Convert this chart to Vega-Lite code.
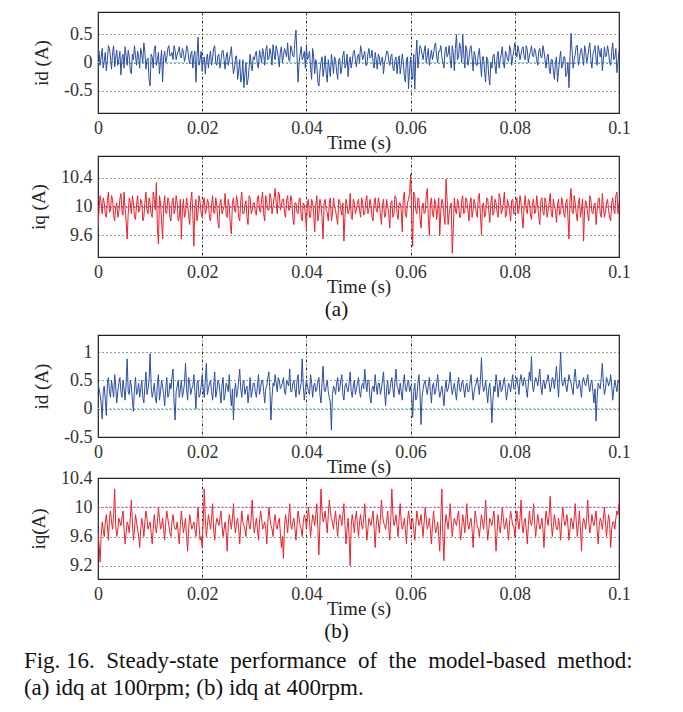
{
"$schema": "https://vega.github.io/schema/vega-lite/v6.json",
"padding": {"left": 23, "top": 11, "right": 5, "bottom": 5},
"background": "white",
"config": {
  "font": "Liberation Serif",
  "view": {"stroke": "#222", "strokeWidth": 1.2},
  "axis": {"labelFont": "Liberation Serif", "labelFontSize": 18, "labelColor": "#333", "titleFont": "Liberation Serif", "titleFontSize": 19, "titleFontWeight": "normal", "titleColor": "#222", "ticks": false, "domain": false, "grid": true, "labelOverlap": false},
  "axisX": {"gridDash": [3, 2, 1, 2], "gridColor": "#333", "labelPadding": 6, "titlePadding": -4, "labelFlush": false},
  "axisY": {"gridDash": [1, 3], "gridColor": "#333", "labelPadding": 6, "titlePadding": 12}
},
"data": {"values": [
{"t":0,"a":0.12,"b":9.72,"c":0.45,"d":9.65},
{"t":0.0004,"a":-0.05,"b":10.15,"c":0.25,"d":9.25},
{"t":0.0008,"a":0.25,"b":9.9,"c":-0.18,"d":9.8},
{"t":0.0012,"a":0.02,"b":10.05,"c":0.4,"d":9.6},
{"t":0.0016,"a":-0.15,"b":9.85,"c":-0.12,"d":9.9},
{"t":0.002,"a":0.3,"b":10.2,"c":0.55,"d":9.55},
{"t":0.0024,"a":0.08,"b":9.95,"c":0.2,"d":9.95},
{"t":0.0028,"a":0.18,"b":10.1,"c":0.35,"d":9.7},
{"t":0.0032,"a":-0.08,"b":9.8,"c":0.6,"d":10.25},
{"t":0.0036,"a":0.22,"b":10.05,"c":0.1,"d":9.6},
{"t":0.004,"a":0.05,"b":9.92,"c":0.45,"d":9.85},
{"t":0.0044,"a":-0.22,"b":10.18,"c":0.3,"d":9.75},
{"t":0.0048,"a":0.15,"b":9.88,"c":0.5,"d":9.95},
{"t":0.0052,"a":0.28,"b":9.98,"c":0.15,"d":9.5},
{"t":0.0056,"a":-0.05,"b":9.55,"c":0.88,"d":9.8},
{"t":0.006,"a":0.1,"b":10.12,"c":0.25,"d":9.65},
{"t":0.0064,"a":-0.2,"b":9.9,"c":0.4,"d":10.1},
{"t":0.0068,"a":0.05,"b":10.05,"c":-0.05,"d":9.55},
{"t":0.0072,"a":0.12,"b":9.82,"c":0.55,"d":9.9},
{"t":0.0076,"a":0.2,"b":10.15,"c":0.3,"d":9.7},
{"t":0.008,"a":-0.1,"b":9.95,"c":0.2,"d":9.45},
{"t":0.0084,"a":0.15,"b":10.08,"c":0.5,"d":9.85},
{"t":0.0088,"a":0.35,"b":9.85,"c":0.1,"d":9.6},
{"t":0.0092,"a":-0.12,"b":10.2,"c":0.65,"d":9.95},
{"t":0.0096,"a":0.08,"b":9.9,"c":0.35,"d":9.7},
{"t":0.01,"a":-0.42,"b":10.05,"c":0.97,"d":9.8},
{"t":0.0104,"a":0.1,"b":9.85,"c":0.2,"d":9.5},
{"t":0.0108,"a":0.25,"b":10.1,"c":0.45,"d":9.9},
{"t":0.0112,"a":-0.05,"b":10.33,"c":0.1,"d":9.65},
{"t":0.0116,"a":0.18,"b":9.48,"c":0.6,"d":10.0},
{"t":0.012,"a":0.02,"b":10.05,"c":0.3,"d":9.7},
{"t":0.0124,"a":-0.35,"b":9.55,"c":0.4,"d":9.85},
{"t":0.0128,"a":0.2,"b":10.15,"c":0.05,"d":9.55},
{"t":0.0132,"a":0.08,"b":9.9,"c":0.55,"d":9.95},
{"t":0.0136,"a":0.3,"b":10.08,"c":0.25,"d":9.75},
{"t":0.014,"a":0.12,"b":9.8,"c":0.35,"d":9.6},
{"t":0.0144,"a":0.05,"b":10.12,"c":0.7,"d":9.9},
{"t":0.0148,"a":0.22,"b":9.95,"c":-0.2,"d":9.7},
{"t":0.0152,"a":0.15,"b":10.05,"c":0.4,"d":9.8},
{"t":0.0156,"a":0.28,"b":9.85,"c":0.2,"d":9.5},
{"t":0.016,"a":0.08,"b":9.55,"c":0.5,"d":9.95},
{"t":0.0164,"a":0.18,"b":10.1,"c":0.3,"d":9.65},
{"t":0.0168,"a":0.1,"b":9.9,"c":0.8,"d":9.85},
{"t":0.0172,"a":0.25,"b":10.02,"c":0.15,"d":9.4},
{"t":0.0176,"a":-0.02,"b":9.75,"c":0.45,"d":9.9},
{"t":0.018,"a":0.2,"b":10.2,"c":0.35,"d":9.7},
{"t":0.0184,"a":0.12,"b":9.45,"c":0.6,"d":9.8},
{"t":0.0188,"a":-0.35,"b":10.1,"c":0.0,"d":9.6},
{"t":0.0192,"a":0.45,"b":9.92,"c":0.5,"d":10.0},
{"t":0.0196,"a":0.05,"b":10.05,"c":0.25,"d":9.55},
{"t":0.02,"a":-0.15,"b":9.85,"c":0.6,"d":9.45},
{"t":0.0204,"a":0.1,"b":10.12,"c":0.2,"d":10.25},
{"t":0.0208,"a":0.05,"b":9.95,"c":0.8,"d":9.6},
{"t":0.0212,"a":-0.1,"b":10.05,"c":0.35,"d":9.9},
{"t":0.0216,"a":0.2,"b":9.8,"c":0.5,"d":9.7},
{"t":0.022,"a":0.08,"b":10.15,"c":0.15,"d":10.05},
{"t":0.0224,"a":0.3,"b":9.9,"c":0.65,"d":9.55},
{"t":0.0228,"a":-0.05,"b":10.02,"c":0.3,"d":9.85},
{"t":0.0232,"a":0.15,"b":9.7,"c":0.45,"d":9.75},
{"t":0.0236,"a":0.02,"b":10.1,"c":0.1,"d":9.95},
{"t":0.024,"a":0.22,"b":9.95,"c":0.55,"d":9.6},
{"t":0.0244,"a":-0.12,"b":10.18,"c":0.25,"d":9.8},
{"t":0.0248,"a":0.18,"b":9.85,"c":0.4,"d":9.4},
{"t":0.0252,"a":0.05,"b":10.0,"c":0.6,"d":9.9},
{"t":0.0256,"a":0.28,"b":9.62,"c":0.05,"d":9.7},
{"t":0.026,"a":-0.2,"b":10.12,"c":-0.2,"d":10.05},
{"t":0.0264,"a":0.1,"b":9.92,"c":0.45,"d":9.65},
{"t":0.0268,"a":-0.3,"b":10.05,"c":0.3,"d":9.85},
{"t":0.0272,"a":0.05,"b":9.8,"c":0.7,"d":9.5},
{"t":0.0276,"a":-0.25,"b":10.2,"c":0.2,"d":9.95},
{"t":0.028,"a":-0.45,"b":9.9,"c":0.5,"d":9.75},
{"t":0.0284,"a":0.0,"b":10.08,"c":0.35,"d":9.6},
{"t":0.0288,"a":-0.3,"b":9.75,"c":0.1,"d":9.9},
{"t":0.0292,"a":0.15,"b":10.12,"c":0.55,"d":9.7},
{"t":0.0296,"a":-0.15,"b":9.95,"c":0.3,"d":10.1},
{"t":0.03,"a":0.05,"b":10.05,"c":0.45,"d":9.65},
{"t":0.0304,"a":0.2,"b":9.88,"c":0.2,"d":9.85},
{"t":0.0308,"a":-0.1,"b":10.15,"c":0.6,"d":9.55},
{"t":0.0312,"a":0.12,"b":9.92,"c":0.35,"d":9.95},
{"t":0.0316,"a":0.25,"b":10.2,"c":0.5,"d":9.7},
{"t":0.032,"a":-0.05,"b":9.8,"c":0.1,"d":9.8},
{"t":0.0324,"a":0.3,"b":10.05,"c":0.4,"d":9.5},
{"t":0.0328,"a":0.08,"b":9.95,"c":0.65,"d":10.0},
{"t":0.0332,"a":0.15,"b":10.12,"c":-0.2,"d":9.75},
{"t":0.0336,"a":0.32,"b":10.0,"c":0.45,"d":9.6},
{"t":0.034,"a":0.05,"b":10.25,"c":0.6,"d":9.9},
{"t":0.0344,"a":0.2,"b":9.9,"c":0.3,"d":9.7},
{"t":0.0348,"a":-0.08,"b":10.18,"c":0.5,"d":9.85},
{"t":0.0352,"a":0.28,"b":10.02,"c":0.4,"d":9.45},
{"t":0.0356,"a":0.12,"b":10.1,"c":0.55,"d":9.3},
{"t":0.036,"a":0.18,"b":9.85,"c":0.25,"d":9.9},
{"t":0.0364,"a":0.35,"b":10.15,"c":0.45,"d":9.65},
{"t":0.0368,"a":0.02,"b":9.95,"c":0.7,"d":10.05},
{"t":0.0372,"a":0.22,"b":10.08,"c":0.3,"d":9.7},
{"t":0.0376,"a":0.1,"b":9.75,"c":0.5,"d":9.85},
{"t":0.038,"a":0.58,"b":10.05,"c":0.2,"d":9.55},
{"t":0.0384,"a":-0.35,"b":9.9,"c":0.6,"d":9.95},
{"t":0.0388,"a":0.15,"b":10.12,"c":0.35,"d":9.75},
{"t":0.0392,"a":0.05,"b":9.8,"c":0.88,"d":9.6},
{"t":0.0396,"a":0.2,"b":10.02,"c":0.15,"d":9.9},
{"t":0.04,"a":0.3,"b":9.7,"c":0.5,"d":9.7},
{"t":0.0404,"a":0.1,"b":10.1,"c":0.3,"d":10.0},
{"t":0.0408,"a":-0.1,"b":9.85,"c":0.6,"d":9.6},
{"t":0.0412,"a":0.25,"b":10.05,"c":0.2,"d":9.9},
{"t":0.0416,"a":-0.2,"b":9.65,"c":0.45,"d":9.75},
{"t":0.042,"a":-0.05,"b":10.15,"c":0.35,"d":10.05},
{"t":0.0424,"a":-0.42,"b":9.9,"c":0.55,"d":9.35},
{"t":0.0428,"a":0.0,"b":10.02,"c":0.1,"d":10.25},
{"t":0.0432,"a":-0.25,"b":9.55,"c":0.75,"d":9.8},
{"t":0.0436,"a":0.12,"b":10.1,"c":0.3,"d":9.95},
{"t":0.044,"a":-0.35,"b":9.92,"c":0.5,"d":9.65},
{"t":0.0444,"a":-0.1,"b":10.05,"c":0.2,"d":10.1},
{"t":0.0448,"a":0.15,"b":9.8,"c":-0.38,"d":9.85},
{"t":0.0452,"a":-0.2,"b":10.12,"c":0.4,"d":9.7},
{"t":0.0456,"a":0.05,"b":9.95,"c":0.25,"d":9.95},
{"t":0.046,"a":-0.3,"b":9.75,"c":0.55,"d":9.6},
{"t":0.0464,"a":0.08,"b":10.08,"c":0.35,"d":9.9},
{"t":0.0468,"a":-0.1,"b":9.88,"c":0.6,"d":9.75},
{"t":0.0472,"a":0.2,"b":9.52,"c":0.15,"d":10.05},
{"t":0.0476,"a":-0.05,"b":10.1,"c":0.45,"d":9.5},
{"t":0.048,"a":-0.25,"b":9.9,"c":0.3,"d":9.85},
{"t":0.0484,"a":0.1,"b":10.18,"c":0.65,"d":9.2},
{"t":0.0488,"a":0.02,"b":9.82,"c":0.2,"d":9.9},
{"t":0.0492,"a":0.22,"b":10.05,"c":0.5,"d":9.65},
{"t":0.0496,"a":-0.08,"b":9.95,"c":0.35,"d":9.95},
{"t":0.05,"a":0.15,"b":10.1,"c":0.55,"d":9.6},
{"t":0.0504,"a":0.3,"b":9.85,"c":0.2,"d":9.9},
{"t":0.0508,"a":0.05,"b":10.05,"c":0.45,"d":9.7},
{"t":0.0512,"a":0.2,"b":9.9,"c":0.7,"d":10.05},
{"t":0.0516,"a":-0.05,"b":10.15,"c":0.3,"d":9.55},
{"t":0.052,"a":0.25,"b":9.95,"c":0.5,"d":9.85},
{"t":0.0524,"a":0.1,"b":10.02,"c":0.1,"d":9.75},
{"t":0.0528,"a":0.0,"b":9.8,"c":0.4,"d":9.95},
{"t":0.0532,"a":0.18,"b":10.12,"c":0.6,"d":9.45},
{"t":0.0536,"a":-0.12,"b":9.92,"c":0.25,"d":9.9},
{"t":0.054,"a":0.1,"b":10.05,"c":0.45,"d":9.65},
{"t":0.0544,"a":0.05,"b":9.75,"c":0.35,"d":10.1},
{"t":0.0548,"a":-0.2,"b":10.1,"c":0.65,"d":9.8},
{"t":0.0552,"a":0.08,"b":9.88,"c":0.05,"d":9.7},
{"t":0.0556,"a":0.2,"b":10.0,"c":0.5,"d":9.95},
{"t":0.056,"a":-0.05,"b":9.7,"c":0.3,"d":9.55},
{"t":0.0564,"a":0.15,"b":10.08,"c":0.55,"d":10.25},
{"t":0.0568,"a":-0.15,"b":9.9,"c":0.2,"d":9.75},
{"t":0.0572,"a":0.1,"b":10.12,"c":0.7,"d":9.9},
{"t":0.0576,"a":0.02,"b":9.82,"c":0.35,"d":9.6},
{"t":0.058,"a":-0.2,"b":10.05,"c":0.45,"d":10.05},
{"t":0.0584,"a":0.15,"b":9.65,"c":0.15,"d":9.7},
{"t":0.0588,"a":-0.25,"b":10.2,"c":0.6,"d":9.85},
{"t":0.0592,"a":0.05,"b":9.85,"c":0.3,"d":9.5},
{"t":0.0596,"a":-0.47,"b":10.1,"c":0.5,"d":9.95},
{"t":0.06,"a":0.1,"b":10.45,"c":0.4,"d":9.7},
{"t":0.0604,"a":-0.3,"b":9.45,"c":-0.15,"d":9.85},
{"t":0.0608,"a":-0.48,"b":10.15,"c":0.45,"d":9.55},
{"t":0.0612,"a":0.4,"b":9.9,"c":0.2,"d":9.95},
{"t":0.0616,"a":0.1,"b":10.1,"c":0.6,"d":9.75},
{"t":0.062,"a":0.25,"b":9.7,"c":-0.28,"d":9.9},
{"t":0.0624,"a":0.05,"b":10.05,"c":0.35,"d":9.6},
{"t":0.0628,"a":0.3,"b":9.92,"c":0.5,"d":10.0},
{"t":0.0632,"a":0.12,"b":10.25,"c":0.25,"d":9.7},
{"t":0.0636,"a":-0.05,"b":9.6,"c":0.55,"d":9.85},
{"t":0.064,"a":0.22,"b":10.12,"c":0.1,"d":9.5},
{"t":0.0644,"a":0.15,"b":9.85,"c":0.45,"d":9.95},
{"t":0.0648,"a":0.35,"b":10.05,"c":0.3,"d":9.65},
{"t":0.0652,"a":0.0,"b":9.95,"c":0.6,"d":9.8},
{"t":0.0656,"a":0.2,"b":9.6,"c":0.2,"d":9.4},
{"t":0.066,"a":0.1,"b":10.1,"c":0.4,"d":10.25},
{"t":0.0664,"a":-0.1,"b":9.88,"c":0.05,"d":9.27},
{"t":0.0668,"a":0.28,"b":10.38,"c":0.5,"d":9.9},
{"t":0.0672,"a":0.15,"b":9.75,"c":0.35,"d":9.7},
{"t":0.0676,"a":0.05,"b":10.0,"c":0.65,"d":10.05},
{"t":0.068,"a":0.3,"b":9.35,"c":0.25,"d":9.6},
{"t":0.0684,"a":-0.15,"b":10.12,"c":0.45,"d":9.85},
{"t":0.0688,"a":0.5,"b":9.9,"c":0.15,"d":9.75},
{"t":0.0692,"a":0.1,"b":10.05,"c":0.55,"d":9.95},
{"t":0.0696,"a":0.25,"b":9.85,"c":0.3,"d":9.55},
{"t":0.07,"a":0.5,"b":10.15,"c":0.5,"d":9.9},
{"t":0.0704,"a":-0.1,"b":9.92,"c":0.2,"d":9.65},
{"t":0.0708,"a":0.2,"b":10.08,"c":0.45,"d":10.05},
{"t":0.0712,"a":0.05,"b":9.8,"c":0.3,"d":9.7},
{"t":0.0716,"a":0.3,"b":10.12,"c":0.6,"d":9.85},
{"t":0.072,"a":-0.15,"b":9.95,"c":0.15,"d":9.45},
{"t":0.0724,"a":0.12,"b":10.02,"c":0.4,"d":9.95},
{"t":0.0728,"a":-0.05,"b":9.85,"c":0.55,"d":9.75},
{"t":0.0732,"a":0.25,"b":10.18,"c":0.25,"d":9.6},
{"t":0.0736,"a":-0.25,"b":9.6,"c":0.9,"d":9.9},
{"t":0.074,"a":0.1,"b":10.05,"c":0.3,"d":9.7},
{"t":0.0744,"a":-0.35,"b":9.9,"c":0.5,"d":10.1},
{"t":0.0748,"a":0.05,"b":10.1,"c":0.1,"d":9.55},
{"t":0.0752,"a":-0.4,"b":9.78,"c":0.45,"d":9.85},
{"t":0.0756,"a":-0.1,"b":10.15,"c":-0.25,"d":9.75},
{"t":0.076,"a":0.15,"b":9.92,"c":0.4,"d":9.95},
{"t":0.0764,"a":-0.2,"b":10.05,"c":0.6,"d":9.4},
{"t":0.0768,"a":0.2,"b":9.85,"c":0.2,"d":9.9},
{"t":0.0772,"a":0.05,"b":10.12,"c":0.5,"d":9.65},
{"t":0.0776,"a":0.28,"b":9.95,"c":0.35,"d":10.0},
{"t":0.078,"a":-0.1,"b":10.2,"c":0.55,"d":9.7},
{"t":0.0784,"a":0.15,"b":9.88,"c":0.15,"d":9.85},
{"t":0.0788,"a":0.02,"b":10.02,"c":0.45,"d":9.55},
{"t":0.0792,"a":0.22,"b":9.8,"c":0.3,"d":9.95},
{"t":0.0796,"a":0.1,"b":10.1,"c":0.6,"d":9.75},
{"t":0.08,"a":0.35,"b":9.9,"c":0.35,"d":9.6},
{"t":0.0804,"a":0.1,"b":10.12,"c":0.55,"d":9.95},
{"t":0.0808,"a":0.2,"b":9.95,"c":0.25,"d":9.7},
{"t":0.0812,"a":0.15,"b":10.05,"c":0.6,"d":10.1},
{"t":0.0816,"a":0.28,"b":9.7,"c":0.4,"d":9.65},
{"t":0.082,"a":0.05,"b":10.15,"c":0.5,"d":9.85},
{"t":0.0824,"a":0.22,"b":9.9,"c":0.2,"d":9.5},
{"t":0.0828,"a":0.12,"b":10.08,"c":0.65,"d":9.95},
{"t":0.0832,"a":0.3,"b":9.82,"c":0.92,"d":9.75},
{"t":0.0836,"a":0.1,"b":10.1,"c":0.3,"d":10.05},
{"t":0.084,"a":0.18,"b":9.92,"c":0.55,"d":9.6},
{"t":0.0844,"a":-0.05,"b":10.02,"c":0.4,"d":9.9},
{"t":0.0848,"a":0.25,"b":9.75,"c":0.7,"d":9.7},
{"t":0.0852,"a":0.08,"b":10.12,"c":0.25,"d":9.85},
{"t":0.0856,"a":0.2,"b":9.88,"c":0.5,"d":9.45},
{"t":0.086,"a":-0.1,"b":10.05,"c":0.45,"d":9.95},
{"t":0.0864,"a":0.15,"b":9.95,"c":0.6,"d":9.75},
{"t":0.0868,"a":-0.2,"b":10.18,"c":0.3,"d":10.15},
{"t":0.0872,"a":0.05,"b":9.85,"c":0.55,"d":9.6},
{"t":0.0876,"a":-0.3,"b":10.0,"c":0.35,"d":9.9},
{"t":0.088,"a":0.1,"b":9.78,"c":0.75,"d":9.7},
{"t":0.0884,"a":-0.15,"b":10.1,"c":0.2,"d":9.85},
{"t":0.0888,"a":0.2,"b":9.92,"c":1.0,"d":9.55},
{"t":0.0892,"a":-0.05,"b":10.05,"c":0.4,"d":10.0},
{"t":0.0896,"a":0.1,"b":9.85,"c":0.55,"d":9.75},
{"t":0.09,"a":-0.2,"b":10.1,"c":0.3,"d":9.9},
{"t":0.0904,"a":-0.45,"b":9.55,"c":0.6,"d":9.55},
{"t":0.0908,"a":0.52,"b":10.25,"c":0.45,"d":9.85},
{"t":0.0912,"a":-0.1,"b":9.9,"c":0.25,"d":9.7},
{"t":0.0916,"a":0.15,"b":10.05,"c":0.7,"d":10.05},
{"t":0.092,"a":0.3,"b":9.8,"c":0.35,"d":9.6},
{"t":0.0924,"a":0.05,"b":10.12,"c":0.5,"d":9.95},
{"t":0.0928,"a":0.25,"b":9.95,"c":0.2,"d":9.4},
{"t":0.0932,"a":-0.05,"b":9.52,"c":0.55,"d":9.85},
{"t":0.0936,"a":0.2,"b":10.08,"c":0.4,"d":9.7},
{"t":0.094,"a":0.1,"b":9.88,"c":0.6,"d":10.1},
{"t":0.0944,"a":0.35,"b":10.15,"c":0.3,"d":9.65},
{"t":0.0948,"a":-0.1,"b":9.92,"c":0.5,"d":9.9},
{"t":0.0952,"a":0.22,"b":10.02,"c":0.1,"d":9.75},
{"t":0.0956,"a":0.05,"b":9.75,"c":-0.22,"d":9.95},
{"t":0.096,"a":0.3,"b":10.1,"c":0.45,"d":9.5},
{"t":0.0964,"a":0.1,"b":9.9,"c":0.35,"d":9.85},
{"t":0.0968,"a":-0.15,"b":10.18,"c":0.8,"d":9.7},
{"t":0.0972,"a":0.28,"b":9.85,"c":0.25,"d":10.0},
{"t":0.0976,"a":0.12,"b":10.05,"c":0.55,"d":9.6},
{"t":0.098,"a":0.18,"b":9.95,"c":0.4,"d":9.9},
{"t":0.0984,"a":-0.05,"b":9.8,"c":0.6,"d":9.45},
{"t":0.0988,"a":0.35,"b":10.12,"c":0.15,"d":9.8},
{"t":0.0992,"a":0.1,"b":9.9,"c":0.5,"d":9.7},
{"t":0.0996,"a":-0.18,"b":10.2,"c":0.3,"d":9.95},
{"t":0.1,"a":0.2,"b":10.05,"c":0.45,"d":10.05},
{"t":0.0002,"a":0.2,"b":9.95,"c":0.35,"d":9.5},
{"t":0.0006,"a":0.1,"b":10.05,"c":0.1,"d":9.6},
{"t":0.001,"a":-0.1,"b":10.12,"c":0.3,"d":9.7},
{"t":0.0014,"a":0.18,"b":9.9,"c":0.15,"d":9.8},
{"t":0.0018,"a":0.05,"b":10.08,"c":0.45,"d":9.75},
{"t":0.0022,"a":0.25,"b":9.92,"c":0.3,"d":9.85},
{"t":0.0026,"a":-0.12,"b":10.15,"c":0.5,"d":9.8},
{"t":0.003,"a":0.3,"b":9.88,"c":0.2,"d":9.9},
{"t":0.0034,"a":0.1,"b":10.0,"c":0.4,"d":9.75},
{"t":0.0038,"a":-0.05,"b":9.85,"c":0.3,"d":9.7},
{"t":0.0042,"a":0.2,"b":10.1,"c":0.55,"d":9.8},
{"t":0.0046,"a":0.08,"b":9.95,"c":0.2,"d":9.85},
{"t":0.005,"a":-0.1,"b":10.2,"c":0.35,"d":9.7},
{"t":0.0054,"a":0.12,"b":9.8,"c":0.45,"d":9.65},
{"t":0.0058,"a":0.22,"b":9.9,"c":0.3,"d":9.75},
{"t":0.0062,"a":-0.15,"b":10.05,"c":0.5,"d":9.85},
{"t":0.0066,"a":0.15,"b":10.15,"c":0.15,"d":9.8},
{"t":0.007,"a":0.3,"b":9.85,"c":0.35,"d":9.7},
{"t":0.0074,"a":-0.05,"b":10.02,"c":0.25,"d":9.8},
{"t":0.0078,"a":0.1,"b":9.92,"c":0.45,"d":9.6},
{"t":0.0082,"a":0.25,"b":10.1,"c":0.35,"d":9.7},
{"t":0.0086,"a":0.0,"b":9.8,"c":0.2,"d":9.75},
{"t":0.009,"a":0.18,"b":10.05,"c":0.4,"d":9.8},
{"t":0.0094,"a":0.05,"b":9.95,"c":0.25,"d":9.85},
{"t":0.0098,"a":-0.3,"b":10.12,"c":0.5,"d":9.75},
{"t":0.0102,"a":0.15,"b":9.9,"c":0.4,"d":9.65},
{"t":0.0106,"a":-0.1,"b":10.2,"c":0.3,"d":9.7},
{"t":0.011,"a":0.3,"b":9.95,"c":0.2,"d":9.75},
{"t":0.0114,"a":0.05,"b":9.7,"c":0.45,"d":9.8},
{"t":0.0118,"a":-0.2,"b":10.15,"c":0.15,"d":9.85},
{"t":0.0122,"a":0.22,"b":9.8,"c":0.5,"d":9.75},
{"t":0.0126,"a":0.1,"b":10.0,"c":0.25,"d":9.7},
{"t":0.013,"a":0.0,"b":9.92,"c":0.35,"d":9.8},
{"t":0.0134,"a":0.25,"b":10.12,"c":0.2,"d":9.85},
{"t":0.0138,"a":0.12,"b":9.85,"c":0.45,"d":9.65},
{"t":0.0142,"a":0.18,"b":10.05,"c":0.55,"d":9.8},
{"t":0.0146,"a":0.3,"b":9.9,"c":0.1,"d":9.75},
{"t":0.015,"a":0.05,"b":10.15,"c":0.3,"d":9.7},
{"t":0.0154,"a":0.2,"b":9.8,"c":0.5,"d":9.65},
{"t":0.0158,"a":0.1,"b":10.1,"c":0.35,"d":9.75},
{"t":0.0162,"a":0.25,"b":9.95,"c":0.2,"d":9.8},
{"t":0.0166,"a":0.02,"b":9.85,"c":0.45,"d":9.75},
{"t":0.017,"a":0.3,"b":10.12,"c":0.35,"d":9.6},
{"t":0.0174,"a":0.08,"b":9.88,"c":0.55,"d":9.7},
{"t":0.0178,"a":0.15,"b":10.08,"c":0.25,"d":9.8},
{"t":0.0182,"a":-0.1,"b":9.9,"c":0.4,"d":9.75},
{"t":0.0186,"a":0.2,"b":10.0,"c":0.3,"d":9.7},
{"t":0.019,"a":0.1,"b":9.8,"c":0.45,"d":9.8},
{"t":0.0194,"a":-0.05,"b":10.15,"c":0.2,"d":9.75},
{"t":0.0198,"a":0.2,"b":9.9,"c":0.4,"d":9.6},
{"t":0.0202,"a":0.05,"b":10.05,"c":0.35,"d":9.8},
{"t":0.0206,"a":-0.2,"b":9.9,"c":0.5,"d":9.85},
{"t":0.021,"a":0.15,"b":10.1,"c":0.25,"d":9.75},
{"t":0.0214,"a":0.1,"b":9.85,"c":0.45,"d":9.8},
{"t":0.0218,"a":-0.05,"b":10.02,"c":0.3,"d":9.85},
{"t":0.0222,"a":0.25,"b":9.92,"c":0.4,"d":9.7},
{"t":0.0226,"a":0.0,"b":10.12,"c":0.2,"d":9.75},
{"t":0.023,"a":0.12,"b":9.8,"c":0.5,"d":9.8},
{"t":0.0234,"a":-0.1,"b":10.05,"c":0.3,"d":9.85},
{"t":0.0238,"a":0.2,"b":9.9,"c":0.4,"d":9.75},
{"t":0.0242,"a":0.05,"b":10.0,"c":0.15,"d":9.7},
{"t":0.0246,"a":0.1,"b":9.88,"c":0.45,"d":9.65},
{"t":0.025,"a":-0.05,"b":10.1,"c":0.3,"d":9.75},
{"t":0.0254,"a":0.15,"b":9.75,"c":0.25,"d":9.8},
{"t":0.0258,"a":0.0,"b":10.05,"c":0.35,"d":9.85},
{"t":0.0262,"a":-0.1,"b":9.95,"c":0.3,"d":9.75},
{"t":0.0266,"a":0.12,"b":10.15,"c":0.2,"d":9.8},
{"t":0.027,"a":-0.15,"b":9.85,"c":0.5,"d":9.7},
{"t":0.0274,"a":-0.35,"b":10.08,"c":0.35,"d":9.75},
{"t":0.0278,"a":0.05,"b":9.9,"c":0.45,"d":9.8},
{"t":0.0282,"a":-0.2,"b":10.02,"c":0.25,"d":9.7},
{"t":0.0286,"a":-0.4,"b":9.85,"c":0.4,"d":9.8},
{"t":0.029,"a":-0.1,"b":10.15,"c":0.3,"d":9.75},
{"t":0.0294,"a":-0.05,"b":9.9,"c":0.2,"d":9.85},
{"t":0.0298,"a":0.1,"b":10.05,"c":0.45,"d":9.8},
{"t":0.0302,"a":0.15,"b":9.92,"c":0.3,"d":9.75},
{"t":0.0306,"a":-0.05,"b":10.12,"c":0.4,"d":9.7},
{"t":0.031,"a":0.22,"b":9.95,"c":0.25,"d":9.8},
{"t":0.0314,"a":0.0,"b":10.1,"c":0.5,"d":9.85},
{"t":0.0318,"a":0.15,"b":9.9,"c":0.3,"d":9.75},
{"t":0.0322,"a":0.2,"b":10.15,"c":0.35,"d":9.7},
{"t":0.0326,"a":0.05,"b":9.95,"c":0.55,"d":9.8},
{"t":0.033,"a":0.25,"b":10.18,"c":0.3,"d":9.85},
{"t":0.0334,"a":-0.05,"b":9.9,"c":0.2,"d":9.7},
{"t":0.0338,"a":0.15,"b":10.12,"c":0.4,"d":9.8},
{"t":0.0342,"a":0.3,"b":10.05,"c":0.45,"d":9.75},
{"t":0.0346,"a":0.1,"b":10.2,"c":0.55,"d":9.8},
{"t":0.035,"a":0.2,"b":9.95,"c":0.35,"d":9.65},
{"t":0.0354,"a":0.0,"b":10.1,"c":0.45,"d":9.6},
{"t":0.0358,"a":0.25,"b":9.9,"c":0.3,"d":9.75},
{"t":0.0362,"a":0.1,"b":10.08,"c":0.5,"d":9.8},
{"t":0.0366,"a":0.05,"b":9.95,"c":0.4,"d":9.85},
{"t":0.037,"a":0.3,"b":10.15,"c":0.3,"d":9.75},
{"t":0.0374,"a":0.12,"b":9.85,"c":0.45,"d":9.8},
{"t":0.0378,"a":0.4,"b":10.05,"c":0.35,"d":9.7},
{"t":0.0382,"a":0.1,"b":9.92,"c":0.5,"d":9.75},
{"t":0.0386,"a":0.0,"b":10.1,"c":0.25,"d":9.85},
{"t":0.039,"a":0.28,"b":9.85,"c":0.45,"d":9.7},
{"t":0.0394,"a":0.1,"b":10.05,"c":0.4,"d":9.8},
{"t":0.0398,"a":-0.1,"b":9.9,"c":0.35,"d":9.85},
{"t":0.0402,"a":0.05,"b":10.05,"c":0.4,"d":9.85},
{"t":0.0406,"a":0.2,"b":9.85,"c":0.25,"d":9.8},
{"t":0.041,"a":-0.3,"b":10.1,"c":0.45,"d":9.75},
{"t":0.0414,"a":0.1,"b":9.9,"c":0.4,"d":9.85},
{"t":0.0418,"a":0.05,"b":10.02,"c":0.3,"d":9.9},
{"t":0.0422,"a":-0.35,"b":9.8,"c":0.5,"d":9.7},
{"t":0.0426,"a":-0.15,"b":10.1,"c":0.25,"d":9.8},
{"t":0.043,"a":0.1,"b":9.85,"c":0.45,"d":9.95},
{"t":0.0434,"a":-0.1,"b":10.05,"c":0.35,"d":9.85},
{"t":0.0438,"a":-0.2,"b":9.95,"c":0.4,"d":9.8},
{"t":0.0442,"a":0.05,"b":9.8,"c":0.3,"d":9.9},
{"t":0.0446,"a":-0.25,"b":10.12,"c":0.1,"d":9.95},
{"t":0.045,"a":0.0,"b":9.9,"c":0.25,"d":9.8},
{"t":0.0454,"a":0.1,"b":10.0,"c":0.35,"d":9.85},
{"t":0.0458,"a":-0.15,"b":9.85,"c":0.45,"d":9.75},
{"t":0.0462,"a":0.05,"b":10.1,"c":0.3,"d":9.8},
{"t":0.0466,"a":-0.2,"b":9.95,"c":0.5,"d":9.85},
{"t":0.047,"a":0.12,"b":10.05,"c":0.25,"d":9.9},
{"t":0.0474,"a":-0.1,"b":9.85,"c":0.4,"d":9.75},
{"t":0.0478,"a":0.15,"b":10.02,"c":0.35,"d":9.7},
{"t":0.0482,"a":0.0,"b":9.95,"c":0.45,"d":9.6},
{"t":0.0486,"a":-0.1,"b":9.85,"c":0.3,"d":9.75},
{"t":0.049,"a":0.18,"b":10.1,"c":0.4,"d":9.8},
{"t":0.0494,"a":0.05,"b":9.9,"c":0.25,"d":9.85},
{"t":0.0498,"a":0.1,"b":10.05,"c":0.45,"d":9.75},
{"t":0.0502,"a":0.0,"b":9.95,"c":0.3,"d":9.8},
{"t":0.0506,"a":0.2,"b":10.12,"c":0.4,"d":9.75},
{"t":0.051,"a":0.12,"b":9.88,"c":0.35,"d":9.85},
{"t":0.0514,"a":-0.05,"b":10.08,"c":0.45,"d":9.8},
{"t":0.0518,"a":0.15,"b":9.9,"c":0.5,"d":9.7},
{"t":0.0522,"a":0.08,"b":10.1,"c":0.2,"d":9.8},
{"t":0.0526,"a":0.22,"b":9.85,"c":0.35,"d":9.85},
{"t":0.053,"a":-0.1,"b":10.05,"c":0.3,"d":9.7},
{"t":0.0534,"a":0.05,"b":9.95,"c":0.4,"d":9.75},
{"t":0.0538,"a":0.15,"b":10.12,"c":0.45,"d":9.8},
{"t":0.0542,"a":-0.05,"b":9.9,"c":0.25,"d":9.85},
{"t":0.0546,"a":0.1,"b":10.02,"c":0.5,"d":9.9},
{"t":0.055,"a":0.0,"b":9.85,"c":0.3,"d":9.75},
{"t":0.0554,"a":0.2,"b":10.1,"c":0.35,"d":9.8},
{"t":0.0558,"a":0.05,"b":9.92,"c":0.25,"d":9.75},
{"t":0.0562,"a":0.1,"b":10.05,"c":0.45,"d":9.85},
{"t":0.0566,"a":-0.1,"b":9.85,"c":0.35,"d":9.9},
{"t":0.057,"a":0.05,"b":10.15,"c":0.5,"d":9.8},
{"t":0.0574,"a":-0.2,"b":9.9,"c":0.4,"d":9.75},
{"t":0.0578,"a":0.12,"b":10.05,"c":0.25,"d":9.85},
{"t":0.0582,"a":-0.05,"b":9.95,"c":0.3,"d":9.8},
{"t":0.0586,"a":0.0,"b":10.12,"c":0.45,"d":9.75},
{"t":0.059,"a":-0.35,"b":9.9,"c":0.35,"d":9.7},
{"t":0.0594,"a":0.1,"b":10.05,"c":0.45,"d":9.8},
{"t":0.0598,"a":-0.15,"b":10.18,"c":0.3,"d":9.85},
{"t":0.0602,"a":-0.2,"b":9.9,"c":0.25,"d":9.8},
{"t":0.0606,"a":0.15,"b":10.2,"c":0.3,"d":9.7},
{"t":0.061,"a":0.1,"b":9.95,"c":0.15,"d":9.75},
{"t":0.0614,"a":-0.1,"b":10.12,"c":0.45,"d":9.85},
{"t":0.0618,"a":0.3,"b":9.85,"c":0.3,"d":9.8},
{"t":0.0622,"a":0.15,"b":10.0,"c":0.2,"d":9.75},
{"t":0.0626,"a":0.2,"b":9.9,"c":0.45,"d":9.8},
{"t":0.063,"a":0.0,"b":10.15,"c":0.35,"d":9.85},
{"t":0.0634,"a":0.25,"b":9.85,"c":0.4,"d":9.75},
{"t":0.0638,"a":0.1,"b":10.05,"c":0.3,"d":9.7},
{"t":0.0642,"a":0.05,"b":9.9,"c":0.4,"d":9.75},
{"t":0.0646,"a":0.3,"b":10.1,"c":0.25,"d":9.8},
{"t":0.065,"a":0.1,"b":9.82,"c":0.45,"d":9.7},
{"t":0.0654,"a":0.2,"b":10.12,"c":0.35,"d":9.6},
{"t":0.0658,"a":0.3,"b":9.95,"c":0.3,"d":9.85},
{"t":0.0662,"a":0.0,"b":10.05,"c":0.25,"d":9.6},
{"t":0.0666,"a":0.2,"b":9.75,"c":0.35,"d":9.75},
{"t":0.067,"a":0.1,"b":10.1,"c":0.3,"d":9.8},
{"t":0.0674,"a":0.3,"b":9.9,"c":0.45,"d":9.85},
{"t":0.0678,"a":-0.1,"b":10.05,"c":0.4,"d":9.8},
{"t":0.0682,"a":0.15,"b":9.7,"c":0.35,"d":9.75},
{"t":0.0686,"a":0.25,"b":9.95,"c":0.3,"d":9.8},
{"t":0.069,"a":0.05,"b":10.1,"c":0.4,"d":9.85},
{"t":0.0694,"a":0.35,"b":9.85,"c":0.35,"d":9.75},
{"t":0.0698,"a":0.0,"b":10.08,"c":0.45,"d":9.7},
{"t":0.0702,"a":0.15,"b":9.9,"c":0.35,"d":9.8},
{"t":0.0706,"a":0.3,"b":10.12,"c":0.4,"d":9.85},
{"t":0.071,"a":-0.05,"b":9.95,"c":0.3,"d":9.75},
{"t":0.0714,"a":0.25,"b":10.05,"c":0.45,"d":9.8},
{"t":0.0718,"a":0.1,"b":9.85,"c":0.35,"d":9.7},
{"t":0.0722,"a":0.2,"b":10.1,"c":0.3,"d":9.75},
{"t":0.0726,"a":-0.05,"b":9.92,"c":0.45,"d":9.85},
{"t":0.073,"a":0.15,"b":10.15,"c":0.4,"d":9.7},
{"t":0.0734,"a":0.0,"b":9.9,"c":0.5,"d":9.75},
{"t":0.0738,"a":0.1,"b":10.02,"c":0.45,"d":9.8},
{"t":0.0742,"a":-0.15,"b":9.85,"c":0.35,"d":9.85},
{"t":0.0746,"a":0.1,"b":10.12,"c":0.3,"d":9.8},
{"t":0.075,"a":-0.25,"b":9.95,"c":0.35,"d":9.7},
{"t":0.0754,"a":0.0,"b":10.05,"c":0.2,"d":9.8},
{"t":0.0758,"a":0.1,"b":9.88,"c":0.15,"d":9.85},
{"t":0.0762,"a":-0.05,"b":10.1,"c":0.3,"d":9.7},
{"t":0.0766,"a":0.1,"b":9.92,"c":0.45,"d":9.65},
{"t":0.077,"a":-0.1,"b":10.18,"c":0.4,"d":9.75},
{"t":0.0774,"a":0.15,"b":9.9,"c":0.3,"d":9.8},
{"t":0.0778,"a":0.0,"b":10.05,"c":0.45,"d":9.85},
{"t":0.0782,"a":0.2,"b":9.85,"c":0.35,"d":9.75},
{"t":0.0786,"a":0.05,"b":10.1,"c":0.3,"d":9.7},
{"t":0.079,"a":0.3,"b":9.95,"c":0.4,"d":9.8},
{"t":0.0794,"a":-0.05,"b":10.08,"c":0.45,"d":9.85},
{"t":0.0798,"a":0.2,"b":9.9,"c":0.35,"d":9.75},
{"t":0.0802,"a":0.2,"b":10.05,"c":0.45,"d":9.75},
{"t":0.0806,"a":0.3,"b":9.9,"c":0.4,"d":9.8},
{"t":0.081,"a":0.05,"b":10.15,"c":0.5,"d":9.85},
{"t":0.0814,"a":0.25,"b":9.85,"c":0.45,"d":9.75},
{"t":0.0818,"a":0.1,"b":10.02,"c":0.55,"d":9.8},
{"t":0.0822,"a":0.3,"b":9.95,"c":0.35,"d":9.7},
{"t":0.0826,"a":0.0,"b":10.1,"c":0.45,"d":9.75},
{"t":0.083,"a":0.2,"b":9.88,"c":0.5,"d":9.8},
{"t":0.0834,"a":0.12,"b":10.05,"c":0.4,"d":9.85},
{"t":0.0838,"a":0.25,"b":9.9,"c":0.45,"d":9.8},
{"t":0.0842,"a":0.05,"b":10.15,"c":0.5,"d":9.75},
{"t":0.0846,"a":0.2,"b":9.85,"c":0.55,"d":9.8},
{"t":0.085,"a":0.1,"b":10.08,"c":0.4,"d":9.75},
{"t":0.0854,"a":0.3,"b":9.92,"c":0.45,"d":9.7},
{"t":0.0858,"a":0.05,"b":10.12,"c":0.35,"d":9.75},
{"t":0.0862,"a":0.1,"b":9.85,"c":0.5,"d":9.85},
{"t":0.0866,"a":-0.1,"b":10.05,"c":0.45,"d":9.9},
{"t":0.087,"a":0.05,"b":9.9,"c":0.4,"d":9.8},
{"t":0.0874,"a":-0.15,"b":10.1,"c":0.5,"d":9.75},
{"t":0.0878,"a":0.0,"b":9.95,"c":0.55,"d":9.8},
{"t":0.0882,"a":-0.35,"b":10.02,"c":0.45,"d":9.7},
{"t":0.0886,"a":0.05,"b":9.88,"c":0.6,"d":9.75},
{"t":0.089,"a":-0.1,"b":10.12,"c":0.5,"d":9.8},
{"t":0.0894,"a":0.1,"b":9.9,"c":0.45,"d":9.85},
{"t":0.0898,"a":-0.25,"b":10.05,"c":0.4,"d":9.8},
{"t":0.0902,"a":0.0,"b":9.85,"c":0.45,"d":9.75},
{"t":0.0906,"a":0.1,"b":10.1,"c":0.5,"d":9.7},
{"t":0.091,"a":0.2,"b":9.92,"c":0.35,"d":9.8},
{"t":0.0914,"a":0.05,"b":10.15,"c":0.55,"d":9.85},
{"t":0.0918,"a":0.3,"b":9.9,"c":0.45,"d":9.8},
{"t":0.0922,"a":-0.05,"b":10.05,"c":0.4,"d":9.75},
{"t":0.0926,"a":0.2,"b":9.85,"c":0.35,"d":9.7},
{"t":0.093,"a":0.1,"b":10.1,"c":0.5,"d":9.75},
{"t":0.0934,"a":0.3,"b":9.95,"c":0.45,"d":9.8},
{"t":0.0938,"a":0.0,"b":10.02,"c":0.5,"d":9.85},
{"t":0.0942,"a":0.25,"b":9.8,"c":0.4,"d":9.8},
{"t":0.0946,"a":0.05,"b":10.1,"c":0.45,"d":9.75},
{"t":0.095,"a":0.15,"b":9.9,"c":0.3,"d":9.8},
{"t":0.0954,"a":0.3,"b":10.05,"c":0.35,"d":9.85},
{"t":0.0958,"a":-0.05,"b":9.95,"c":0.2,"d":9.7},
{"t":0.0962,"a":0.2,"b":10.12,"c":0.4,"d":9.75},
{"t":0.0966,"a":0.25,"b":9.85,"c":0.55,"d":9.8},
{"t":0.097,"a":0.05,"b":10.0,"c":0.45,"d":9.85},
{"t":0.0974,"a":0.1,"b":9.92,"c":0.35,"d":9.8},
{"t":0.0978,"a":0.3,"b":10.1,"c":0.5,"d":9.75},
{"t":0.0982,"a":0.0,"b":9.85,"c":0.45,"d":9.8},
{"t":0.0986,"a":0.2,"b":10.05,"c":0.4,"d":9.7},
{"t":0.099,"a":0.05,"b":9.95,"c":0.35,"d":9.8},
{"t":0.0994,"a":0.25,"b":10.15,"c":0.4,"d":9.85},
{"t":0.0998,"a":0.0,"b":9.9,"c":0.5,"d":9.9}
]},
"bounds": "flush",
"spacing": 0,
"title": {"text": ["Fig.\u00a016.\u00a0 Steady-state\u00a0 performance\u00a0 of\u00a0 the\u00a0 model-based\u00a0 method:", "(a) idq at 100rpm; (b) idq at 400rpm."], "orient": "bottom", "anchor": "start", "frame": "bounds", "font": "Liberation Serif", "fontSize": 23, "fontWeight": "normal", "color": "#111", "lineHeight": 27, "offset": 7, "dx": -5},
"vconcat": [
{
  "width": 521, "height": 101,
  "layer": [
    {"data": {"values": [{}]}, "mark": {"type": "rule", "color": "#9fe3ee", "strokeWidth": 1}, "encoding": {"y": {"datum": 0}}},
    {"mark": {"type": "line", "color": "#2b4ea0", "strokeWidth": 1, "clip": true},
     "encoding": {
       "x": {"field": "t", "type": "quantitative", "scale": {"domain": [0, 0.1], "nice": false}, "axis": {"values": [0, 0.02, 0.04, 0.06, 0.08, 0.1], "tickCount": 20, "labelExpr": "'' + datum.value", "title": "Time (s)"}},
       "y": {"field": "a", "type": "quantitative", "scale": {"domain": [-0.9, 0.9], "nice": false, "zero": false}, "axis": {"values": [-0.5, 0, 0.5], "tickCount": 10, "labelExpr": "'' + datum.value", "title": "id (A)"}}
     }}
  ]
},
{"width": 521, "height": 43, "data": {"values": []}, "mark": "point", "view": {"stroke": null}},
{
  "width": 521, "height": 101,
  "title": {"text": "(a)", "orient": "bottom", "anchor": "middle", "font": "Liberation Serif", "fontSize": 21, "fontWeight": "normal", "color": "#111", "offset": 3, "dx": -22},
  "layer": [
    {"data": {"values": [{}]}, "mark": {"type": "rule", "color": "#a05ac8", "strokeWidth": 1, "strokeDash": [2, 2]}, "encoding": {"y": {"datum": 10}}},
    {"mark": {"type": "line", "color": "#e8222b", "strokeWidth": 1, "clip": true},
     "encoding": {
       "x": {"field": "t", "type": "quantitative", "scale": {"domain": [0, 0.1], "nice": false}, "axis": {"values": [0, 0.02, 0.04, 0.06, 0.08, 0.1], "tickCount": 20, "labelExpr": "'' + datum.value", "title": "Time (s)"}},
       "y": {"field": "b", "type": "quantitative", "scale": {"domain": [9.3, 10.7], "nice": false, "zero": false}, "axis": {"values": [9.6, 10, 10.4], "tickCount": 10, "labelExpr": "'' + datum.value", "title": "iq (A)"}}
     }}
  ]
},
{"width": 521, "height": 78, "data": {"values": []}, "mark": "point", "view": {"stroke": null}},
{
  "width": 521, "height": 102,
  "layer": [
    {"data": {"values": [{}]}, "mark": {"type": "rule", "color": "#6fd0e0", "strokeWidth": 1, "strokeDash": [2, 2]}, "encoding": {"y": {"datum": 0}}},
    {"mark": {"type": "line", "color": "#2b4ea0", "strokeWidth": 1, "clip": true},
     "encoding": {
       "x": {"field": "t", "type": "quantitative", "scale": {"domain": [0, 0.1], "nice": false}, "axis": {"values": [0, 0.02, 0.04, 0.06, 0.08, 0.1], "tickCount": 20, "labelExpr": "'' + datum.value", "title": "Time (s)"}},
       "y": {"field": "c", "type": "quantitative", "scale": {"domain": [-0.5, 1.3], "nice": false, "zero": false}, "axis": {"values": [-0.5, 0, 0.5, 1], "tickCount": 10, "labelExpr": "'' + datum.value", "title": "id (A)"}}
     }}
  ]
},
{"width": 521, "height": 41, "data": {"values": []}, "mark": "point", "view": {"stroke": null}},
{
  "width": 521, "height": 101,
  "title": {"text": "(b)", "orient": "bottom", "anchor": "middle", "font": "Liberation Serif", "fontSize": 21, "fontWeight": "normal", "color": "#111", "offset": 3, "dx": -22},
  "layer": [
    {"mark": {"type": "line", "color": "#e8222b", "strokeWidth": 1, "clip": true},
     "encoding": {
       "x": {"field": "t", "type": "quantitative", "scale": {"domain": [0, 0.1], "nice": false}, "axis": {"values": [0, 0.02, 0.04, 0.06, 0.08, 0.1], "tickCount": 20, "labelExpr": "'' + datum.value", "title": "Time (s)"}},
       "y": {"field": "d", "type": "quantitative", "scale": {"domain": [9.02, 10.4], "nice": false, "zero": false}, "axis": {"values": [9.2, 9.6, 10, 10.4], "tickCount": 10, "labelExpr": "'' + datum.value", "title": "iq(A)"}}
     }},
    {"data": {"values": [{}]}, "mark": {"type": "rule", "color": "#c060d0", "strokeWidth": 1, "strokeDash": [2, 2]}, "encoding": {"y": {"datum": 10}}}
  ]
}
]
}
